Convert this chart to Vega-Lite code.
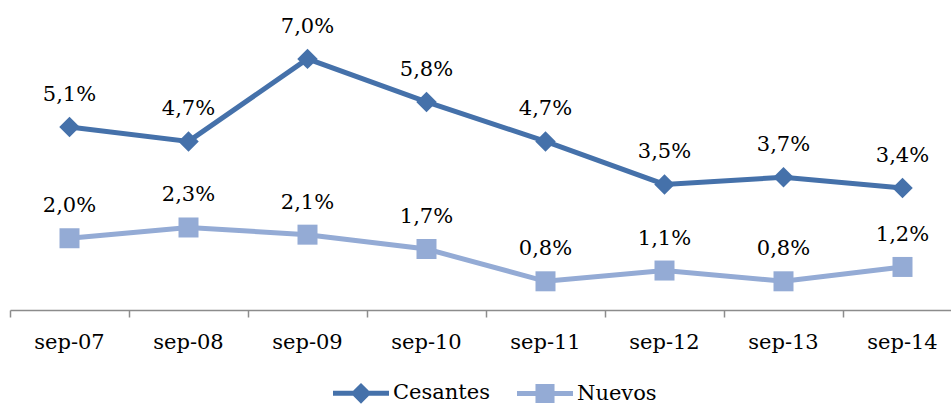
{
  "$schema": "https://vega.github.io/schema/vega-lite/v6.json",
  "autosize": {"type": "none"},
  "width": 941,
  "height": 287,
  "padding": {"left": 10, "top": 23, "right": 0, "bottom": 94},
  "background": "white",
  "config": {
    "view": {"stroke": null},
    "locale": {"number": {"decimal": ",", "thousands": ".", "grouping": [3], "currency": ["", " €"]}}
  },
  "data": {
    "values": [
      {"periodo": "sep-07", "serie": "Cesantes", "valor": 0.051},
      {"periodo": "sep-08", "serie": "Cesantes", "valor": 0.047},
      {"periodo": "sep-09", "serie": "Cesantes", "valor": 0.070},
      {"periodo": "sep-10", "serie": "Cesantes", "valor": 0.058},
      {"periodo": "sep-11", "serie": "Cesantes", "valor": 0.047},
      {"periodo": "sep-12", "serie": "Cesantes", "valor": 0.035},
      {"periodo": "sep-13", "serie": "Cesantes", "valor": 0.037},
      {"periodo": "sep-14", "serie": "Cesantes", "valor": 0.034},
      {"periodo": "sep-07", "serie": "Nuevos", "valor": 0.020},
      {"periodo": "sep-08", "serie": "Nuevos", "valor": 0.023},
      {"periodo": "sep-09", "serie": "Nuevos", "valor": 0.021},
      {"periodo": "sep-10", "serie": "Nuevos", "valor": 0.017},
      {"periodo": "sep-11", "serie": "Nuevos", "valor": 0.008},
      {"periodo": "sep-12", "serie": "Nuevos", "valor": 0.011},
      {"periodo": "sep-13", "serie": "Nuevos", "valor": 0.008},
      {"periodo": "sep-14", "serie": "Nuevos", "valor": 0.012}
    ]
  },
  "encoding": {
    "x": {
      "field": "periodo", "type": "ordinal", "sort": null,
      "scale": {"type": "band", "range": [0, 952], "paddingInner": 0, "paddingOuter": 0},
      "axis": {
        "title": null, "bandPosition": 0,
        "labelAngle": 0, "labelFont": "DejaVu Serif", "labelFontSize": 21,
        "labelColor": "black", "labelPadding": 14,
        "domainColor": "#8c8c8c", "domainWidth": 1.5,
        "tickColor": "#8c8c8c", "tickWidth": 1.5, "tickSize": 7, "grid": false
      }
    },
    "y": {
      "field": "valor", "type": "quantitative",
      "scale": {"domain": [0, 0.08], "nice": false, "zero": true},
      "axis": null
    }
  },
  "layer": [
    {
      "transform": [{"filter": "datum.serie === 'Cesantes'"}],
      "mark": {"type": "line", "strokeWidth": 5, "color": "#4571AA"},
      "encoding": {}
    },
    {
      "transform": [{"filter": "datum.serie === 'Nuevos'"}],
      "mark": {"type": "line", "strokeWidth": 5, "color": "#94ABD5"},
      "encoding": {}
    },
    {
      "transform": [{"filter": "datum.serie === 'Cesantes'"}],
      "mark": {"type": "point", "shape": "diamond", "size": 420, "filled": true, "opacity": 1, "color": "#4571AA"},
      "encoding": {}
    },
    {
      "transform": [{"filter": "datum.serie === 'Nuevos'"}],
      "mark": {"type": "point", "shape": "square", "size": 400, "filled": true, "opacity": 1, "color": "#94ABD5"},
      "encoding": {}
    },
    {
      "mark": {"type": "text", "font": "DejaVu Serif", "fontSize": 21, "color": "black", "baseline": "alphabetic", "dy": -26},
      "encoding": {
        "text": {"field": "valor", "type": "quantitative", "format": ".1%"}
      }
    },
    {
      "transform": [{"filter": "datum.valor > 1"}],
      "mark": {"type": "point", "filled": true, "opacity": 1, "size": 3136},
      "encoding": {
        "color": {
          "field": "serie", "type": "nominal",
          "scale": {"domain": ["Cesantes", "Nuevos"], "range": ["#4571AA", "#94ABD5"]},
          "legend": {
            "title": null, "orient": "none", "direction": "horizontal",
            "legendX": 323, "legendY": 342,
            "labelFont": "DejaVu Serif", "labelFontSize": 21, "labelColor": "black",
            "labelOffset": 4, "columnPadding": 27, "symbolSize": 3136,
            "symbolStrokeWidth": 0, "symbolOpacity": 1
          }
        },
        "shape": {
          "field": "serie", "type": "nominal",
          "scale": {"domain": ["Cesantes", "Nuevos"], "range": ["M-1,-0.09H1V0.09H-1Z M0,-0.37L0.37,0L0,0.37L-0.37,0Z", "M-1,-0.09H1V0.09H-1Z M-0.34,-0.34H0.34V0.34H-0.34Z"]},
          "legend": {
            "title": null, "orient": "none", "direction": "horizontal",
            "legendX": 323, "legendY": 342,
            "labelFont": "DejaVu Serif", "labelFontSize": 21, "labelColor": "black",
            "labelOffset": 4, "columnPadding": 27, "symbolSize": 3136,
            "symbolStrokeWidth": 0, "symbolOpacity": 1
          }
        }
      }
    }
  ]
}
